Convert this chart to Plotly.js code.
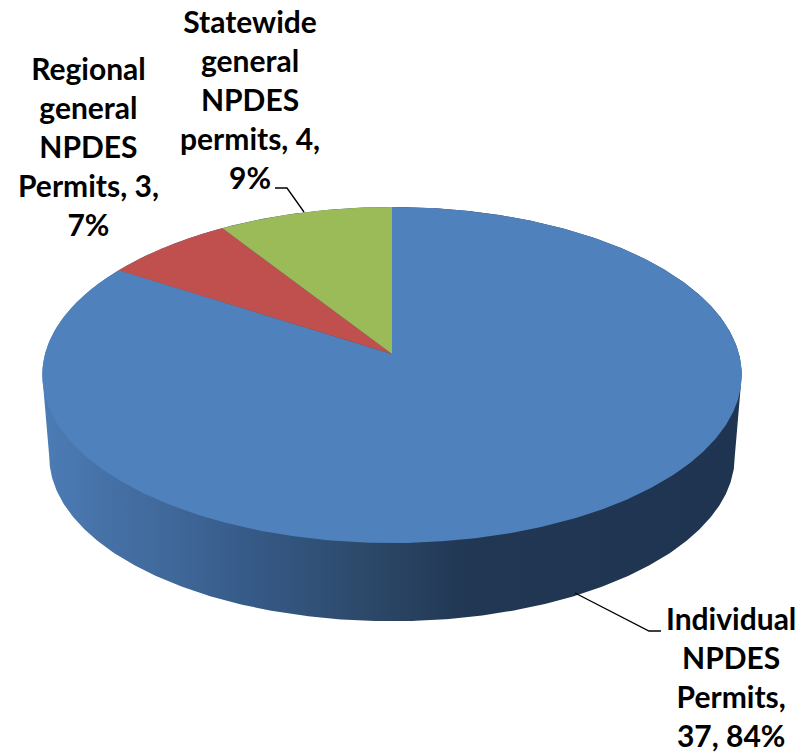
<!DOCTYPE html>
<html>
<head>
<meta charset="utf-8">
<script src="https://cdn.plot.ly/plotly-3.0.1.min.js"></script>
<style>html,body{margin:0;padding:0;background:#fff;overflow:hidden}</style>
</head>
<body>
<div id="chart" style="width:808px;height:752px"></div>
<script>
// Data, in drawing order clockwise from 12 o'clock
var categories = ['Individual NPDES Permits', 'Regional general NPDES Permits', 'Statewide general NPDES permits'];
var values = [37, 3, 4];
var colors = ['#4f81bd', '#c0504d', '#9bbb59'];
var labelLines = [
  'Individual<br>NPDES<br>Permits,<br>37, 84%',
  'Regional<br>general<br>NPDES<br>Permits, 3,<br>7%',
  'Statewide<br>general<br>NPDES<br>permits, 4,<br>9%'
];
var labelX = [731, 88, 250];
var labelY = [676, 146, 99];
var wallStops = [[0,'#4c7cb5'],[0.08,'#4672a8'],[0.18,'#40689a'],[0.28,'#375c8a'],[0.47,'#2c4868'],[0.61,'#213753'],[1,'#1f3450']];

// Tilted-disc projection (page pixels on a hidden 808x752 axis)
var cx = 392, cy = 354, A = 347, B = 165.4, k = 0.125;
function project(turn, scale, dy) {
  var t = turn * 2 * Math.PI, u = Math.sin(t), v = Math.cos(t), d = 1 + k * v;
  return [cx + scale * A * u / d, cy + dy - scale * B * v / d];
}
var total = values.reduce(function (a, b) { return a + b; }, 0);

var traces = [];
function arc(from, to, scale, dy) {
  var n = Math.max(2, Math.ceil(Math.abs(to - from) * 720)), out = [];
  for (var i = 0; i <= n; i++) out.push(project(from + (to - from) * i / n, scale, dy));
  return out;
}
// side wall
var wallPts = arc(-0.27, 0.27, 1, 0).concat(arc(0.27, 0.73, 0.98, 82));
traces.push({
  type: 'scatter', mode: 'lines', x: wallPts.map(function (p) { return p[0]; }), y: wallPts.map(function (p) { return p[1]; }),
  fill: 'toself', line: {width: 0}, hoverinfo: 'skip',
  fillgradient: {type: 'horizontal', colorscale: wallStops, start: 45, stop: 740}
});
// top slices
var start = 0;
values.forEach(function (val, i) {
  var end = start + val / total;
  var pts = [[cx, cy]].concat(arc(start, end, 1, 0)).concat([[cx, cy]]);
  traces.push({
    type: 'scatter', mode: 'lines', name: categories[i],
    x: pts.map(function (p) { return p[0]; }), y: pts.map(function (p) { return p[1]; }),
    fill: 'toself', fillcolor: colors[i], line: {width: 0}, hoverinfo: 'name'
  });
  start = end;
});

var annotations = labelLines.map(function (txt, i) {
  return {x: labelX[i], y: labelY[i], xref: 'x', yref: 'y',
    text: txt.split('<br>').map(function (s) { return '<b>' + s + '</b>'; }).join('<br>'),
    showarrow: false, xanchor: 'center', yanchor: 'middle', align: 'center',
    font: {family: 'Lato, sans-serif', size: 30, color: '#000'}};
});

function leader(path) {
  return {type: 'path', xref: 'x', yref: 'y', path: path, line: {color: '#000', width: 1.3}};
}
var layout = {
  width: 808, height: 752, margin: {l: 0, r: 0, t: 0, b: 0},
  paper_bgcolor: '#fff', plot_bgcolor: '#fff', showlegend: false,
  xaxis: {range: [0, 808], visible: false, fixedrange: true},
  yaxis: {range: [752, 0], visible: false, fixedrange: true},
  annotations: annotations,
  shapes: [leader('M275,188 L287,188 L304,212'), leader('M575,593 L649,631 L661,631')]
};
Plotly.newPlot('chart', traces, layout, {displayModeBar: false});
</script>
</body>
</html>
